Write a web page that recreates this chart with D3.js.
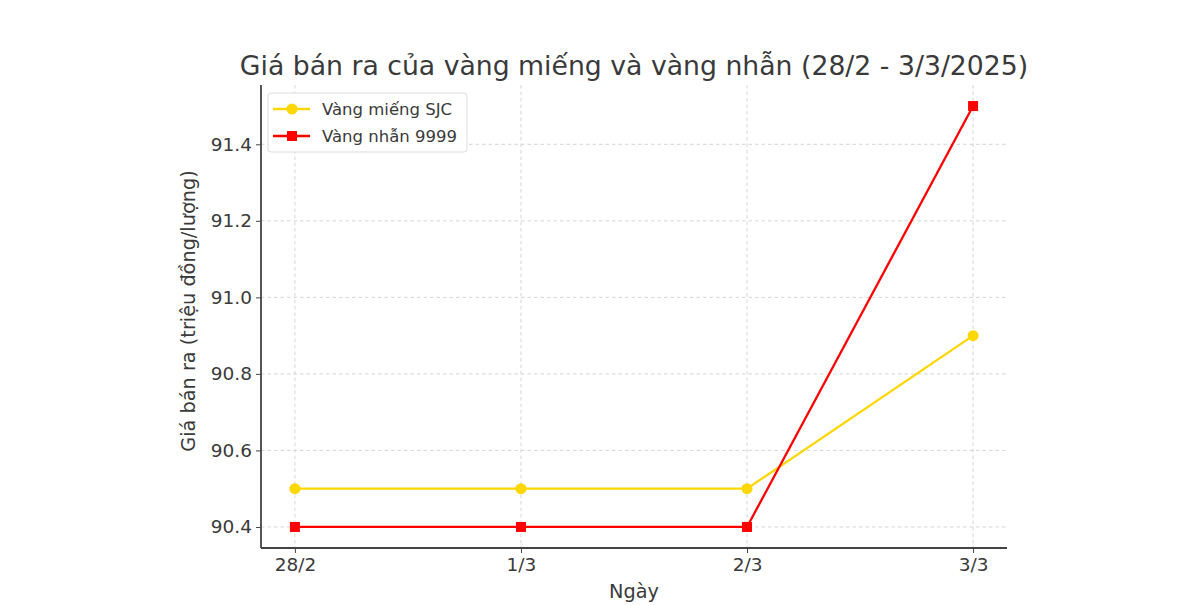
<!DOCTYPE html>
<html><head><meta charset="utf-8">
<script src="https://cdn.jsdelivr.net/npm/d3@7/dist/d3.min.js"></script>
<style>body{margin:0;background:#fff;} text{font-family:"DejaVu Sans",sans-serif;}</style>
</head><body>
<svg id="c" width="1200" height="605"></svg>
<script>
const categories = ["28/2","1/3","2/3","3/3"];
const sjcValues = [90.5, 90.5, 90.5, 90.9];
const ringValues = [90.4, 90.4, 90.4, 91.5];
const yTicks = [90.4, 90.6, 90.8, 91.0, 91.2, 91.4];
const seriesNames = ["Vàng miếng SJC","Vàng nhẫn 9999"];
const seriesColors = ["#FFD700","#FF0000"];

const svg = d3.select("#c");
const L=261,R=1007,T=85,B=548;
const x = d3.scaleLinear().domain([-0.15,3.15]).range([L,R]);
const y = d3.scaleLinear().domain([90.345,91.555]).range([B,T]);
const txt = "#3a3a3a";

// grid
const g = svg.append("g");
g.selectAll(".gx").data(categories).enter().append("line")
 .attr("x1",(d,i)=>x(i)).attr("x2",(d,i)=>x(i)).attr("y1",T).attr("y2",B)
 .attr("stroke","#d0d0d0").attr("stroke-width",0.9).attr("stroke-dasharray","3.5,3");
g.selectAll(".gy").data(yTicks).enter().append("line")
 .attr("x1",L).attr("x2",R).attr("y1",d=>y(d)).attr("y2",d=>y(d))
 .attr("stroke","#d0d0d0").attr("stroke-width",0.9).attr("stroke-dasharray","3.5,3");

// axes
const xAxis = d3.axisBottom(x).tickValues([0,1,2,3]).tickFormat(i=>categories[i]).tickSize(5).tickPadding(5);
const yAxis = d3.axisLeft(y).tickValues(yTicks).tickFormat(d3.format(".1f")).tickSize(5).tickPadding(4);
const gx = svg.append("g").attr("transform",`translate(0,${B})`).call(xAxis);
const gy = svg.append("g").attr("transform",`translate(${L},0)`).call(yAxis);
[gx,gy].forEach(a=>{
  a.select(".domain").attr("stroke","#444").attr("stroke-width",1.8);
  a.selectAll(".tick line").attr("stroke","#444").attr("stroke-width",1);
  a.selectAll(".tick text").attr("fill",txt).style("font-size","18.5px").style("font-family","DejaVu Sans");
});
gx.select(".domain").attr("d",`M${L},0H${R}`);
gy.select(".domain").attr("d",`M0,${B}V${T}`);

// lines
const line = d3.line().x((d,i)=>x(i)).y(d=>y(d));
svg.append("path").datum(sjcValues).attr("d",line).attr("fill","none").attr("stroke",seriesColors[0]).attr("stroke-width",2.3);
svg.append("path").datum(ringValues).attr("d",line).attr("fill","none").attr("stroke",seriesColors[1]).attr("stroke-width",2.3);
svg.selectAll(".dot").data(sjcValues).enter().append("circle")
 .attr("cx",(d,i)=>x(i)).attr("cy",d=>y(d)).attr("r",5.5).attr("fill",seriesColors[0]);
svg.selectAll(".sq").data(ringValues).enter().append("rect")
 .attr("x",(d,i)=>x(i)-5).attr("y",d=>y(d)-5).attr("width",10).attr("height",10).attr("fill",seriesColors[1]);

// title & labels
svg.append("text").attr("x",634).attr("y",75).attr("text-anchor","middle")
 .style("font-size","26.7px").attr("fill",txt).text("Giá bán ra của vàng miếng và vàng nhẫn (28/2 - 3/3/2025)");
svg.append("text").attr("x",634).attr("y",598).attr("text-anchor","middle")
 .style("font-size","19.3px").attr("fill",txt).text("Ngày");
svg.append("text").attr("transform",`translate(195,311) rotate(-90)`).attr("text-anchor","middle")
 .style("font-size","19.3px").attr("fill",txt).text("Giá bán ra (triệu đồng/lượng)");

// legend
const lg = svg.append("g").attr("transform","translate(268,93)");
lg.append("rect").attr("width",199).attr("height",59).attr("rx",3).attr("fill","#fff").attr("stroke","#dcdcdc");
seriesNames.forEach((n,i)=>{
  const yy = 16+i*27;
  lg.append("line").attr("x1",5).attr("x2",42).attr("y1",yy).attr("y2",yy).attr("stroke",seriesColors[i]).attr("stroke-width",2.3);
  if(i===0) lg.append("circle").attr("cx",24).attr("cy",yy).attr("r",5.5).attr("fill",seriesColors[i]);
  else lg.append("rect").attr("x",19).attr("y",yy-5).attr("width",10).attr("height",10).attr("fill",seriesColors[i]);
  lg.append("text").attr("x",54).attr("y",yy+6).style("font-size","16.5px").attr("fill",txt).text(n);
});
</script>
</body></html>
